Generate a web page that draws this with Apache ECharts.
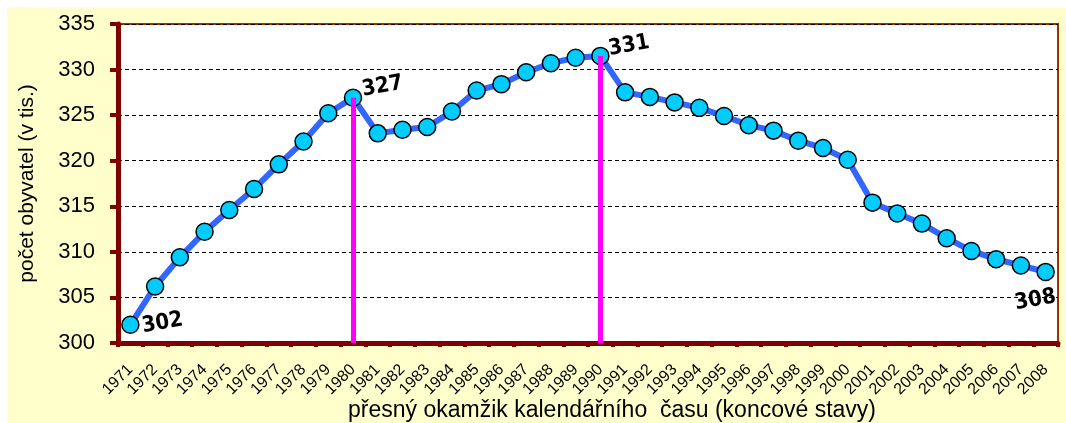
<!DOCTYPE html>
<html>
<head>
<meta charset="utf-8">
<script src="https://cdn.jsdelivr.net/npm/echarts@6/dist/echarts.min.js"></script>
<style>
  html, body { margin: 0; padding: 0; background: #ffffff; }
  #chart { position: absolute; left: 7px; top: 7px; width: 1059px; height: 416px; }
</style>
</head>
<body>
<div id="chart"></div>
<script>
// roky (koncové stavy)
const years = ['1971','1972','1973','1974','1975','1976','1977','1978','1979','1980',
  '1981','1982','1983','1984','1985','1986','1987','1988','1989','1990',
  '1991','1992','1993','1994','1995','1996','1997','1998','1999','2000',
  '2001','2002','2003','2004','2005','2006','2007','2008'];
// počet obyvatel v tis.
const population = [302.0, 306.2, 309.4, 312.2, 314.6, 316.9, 319.6, 322.1, 325.2, 326.9,
  323.0, 323.4, 323.7, 325.4, 327.7, 328.4, 329.7, 330.7, 331.3, 331.5,
  327.5, 327.0, 326.4, 325.8, 324.9, 323.9, 323.3, 322.2, 321.4, 320.1,
  315.4, 314.2, 313.1, 311.5, 310.1, 309.2, 308.5, 307.8];
// popisky vybraných bodů
const labelYears = ['1971', '1980', '1990', '2008'];
const labelTexts = ['302', '327', '331', '308'];
const labelOffsets = [[32, 4], [31, -6], [30, -5], [-15, 26]];
// svislé čáry (maxima)
const peakYears = ['1980', '1990'];

let seriesData = population.map((v, i) => {
  let k = labelYears.indexOf(years[i]);
  if (k < 0) return v;
  return {
    value: v,
    label: {
      show: true,
      position: 'inside',
      offset: labelOffsets[k],
      rotate: 10,
      formatter: labelTexts[k],
      color: '#000',
      fontSize: 22,
      fontWeight: 'bold',
      fontFamily: '"Liberation Sans Narrow", "DejaVu Sans Condensed", sans-serif'
    }
  };
});

let peakLines = peakYears.map(y => [
  { coord: [y, population[years.indexOf(y)]] },
  { coord: [y, 300] }
]);

let oChart = echarts.init(document.getElementById('chart'));
let option = {
  animation: false,
  backgroundColor: '#FFFFCC',
  textStyle: { fontFamily: '"Liberation Sans", Arial, sans-serif' },
  grid: {
    left: 111, right: 8, top: 17, bottom: 80,
    outerBoundsMode: 'none',
    show: true,
    backgroundColor: '#ffffff',
    borderColor: '#993300',
    borderWidth: 2
  },
  xAxis: {
    type: 'category',
    data: years,
    boundaryGap: true,
    name: 'přesný okamžik kalendářního  času (koncové stavy)',
    nameLocation: 'middle',
    nameGap: 56,
    nameMoveOverlap: false,
    nameTextStyle: { fontSize: 23, color: '#000', padding: [0, 0, 0, 48] },
    axisLine: { lineStyle: { color: '#800000', width: 5 } },
    axisTick: { show: true, length: 4, lineStyle: { color: '#800000', width: 4 } },
    axisLabel: { interval: 0, rotate: 45, fontSize: 16, color: '#000', margin: 24 },
    splitLine: { show: false }
  },
  yAxis: {
    type: 'value',
    min: 300,
    max: 335,
    interval: 5,
    name: 'počet obyvatel (v tis.)',
    nameLocation: 'middle',
    nameGap: 80,
    nameTextStyle: { fontSize: 21, color: '#000' },
    axisLine: { show: true, lineStyle: { color: '#800000', width: 5 } },
    axisTick: { show: true, length: 8, lineStyle: { color: '#800000', width: 4 } },
    axisLabel: { fontSize: 22, color: '#000', margin: 23 },
    splitLine: { show: true, lineStyle: { color: '#000', type: [4, 3], width: 1 } }
  },
  series: [
    {
      type: 'line',
      data: seriesData,
      symbol: 'circle',
      symbolSize: 17,
      lineStyle: { color: '#3366FF', width: 6 },
      itemStyle: { color: '#00CCFF', borderColor: '#000', borderWidth: 1.5 },
      markLine: {
        silent: true,
        symbol: 'none',
        label: { show: false },
        lineStyle: { color: '#FF00FF', width: 5, type: 'solid' },
        data: peakLines
      }
    }
  ]
};
oChart.setOption(option);
</script>
</body>
</html>
